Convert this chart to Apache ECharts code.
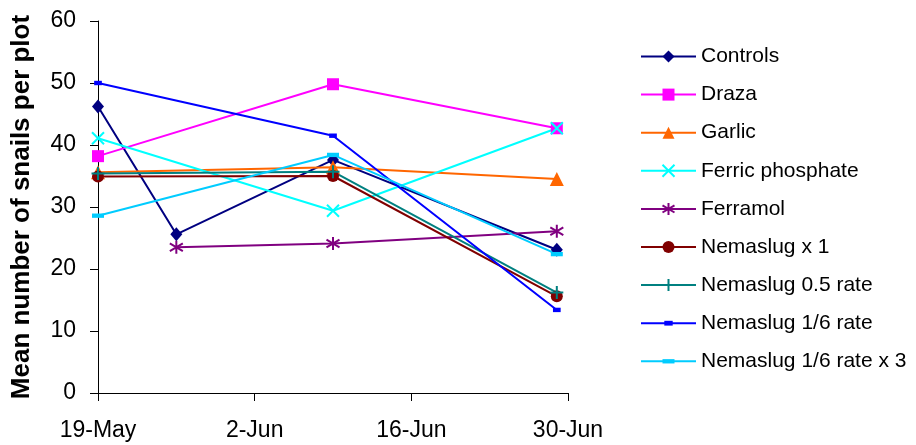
<!DOCTYPE html>
<html>
<head>
<meta charset="utf-8">
<script src="https://cdn.jsdelivr.net/npm/echarts@6/dist/echarts.min.js"></script>
<style>
html,body{margin:0;padding:0;background:#fff;}
#chart{width:916px;height:445px;}
</style>
</head>
<body>
<div id="chart"></div>
<script>
// Sampling dates
const startDate = '2008-05-19';
const dates4 = ['2008-05-19', '2008-05-26', '2008-06-09', '2008-06-29'];
const dates3 = ['2008-05-19', '2008-06-09', '2008-06-29'];
const datesFerramol = ['2008-05-26', '2008-06-09', '2008-06-29'];
const tickDates = ['2008-05-19', '2008-06-02', '2008-06-16', '2008-06-30'];
const tickLabels = ['19-May', '2-Jun', '16-Jun', '30-Jun'];

// Series values
const controls = [46.2, 25.6, 37.6, 23.1];
const draza = [38.2, 49.8, 42.7];
const garlic = [35.6, 36.4, 34.5];
const ferricPhosphate = [41.1, 29.4, 42.7];
const ferramol = [23.5, 24.1, 26.1];
const nemaslugX1 = [34.9, 35.0, 15.6];
const nemaslug05 = [35.4, 35.7, 16.2];
const nemaslug16 = [50.0, 41.5, 13.4];
const nemaslug16x3 = [28.6, 38.4, 22.4];

const DAY = 86400000;
const t0 = Date.parse(startDate);
const dayOf = d => Math.round((Date.parse(d) - t0) / DAY);
const pairs = (ds, vs) => ds.map((d, i) => [dayOf(d), vs[i]]);
const tickMap = {};
tickDates.forEach((d, i) => { tickMap[dayOf(d)] = tickLabels[i]; });

const xPath = 'path://M0,0L10,10M10,0L0,10';
const starPath = 'path://M5,0L5,10M0,2L10,8M10,2L0,8';
const plusPath = 'path://M5,0L5,10M0,5L10,5';
// dashes inside a square bounding box so they keep their shape in the legend
const dashShort = 'path://M0,0M10,10M1.5,3L8.5,3L8.5,7L1.5,7Z';
const dashLong = 'path://M0,0M10,10M0,3.2L10,3.2L10,6.8L0,6.8Z';

function mk(name, ds, vs, color, symbol, size, stroke) {
  return {
    name: name,
    type: 'line',
    data: pairs(ds, vs),
    symbol: symbol,
    symbolSize: size,
    showAllSymbol: true,
    animation: false,
    lineStyle: { color: color, width: 2 },
    itemStyle: stroke
      ? { color: 'rgba(0,0,0,0)', borderColor: color, borderWidth: 2 }
      : { color: color, borderWidth: 0 },
    emphasis: { disabled: true }
  };
}

const series = [
  mk('Controls', dates4, controls, '#000080', 'diamond', [12, 14], false),
  mk('Draza', dates3, draza, '#FF00FF', 'rect', 12, false),
  mk('Garlic', dates3, garlic, '#FF6600', 'triangle', 14, false),
  mk('Ferric phosphate', dates3, ferricPhosphate, '#00FFFF', xPath, 12, true),
  mk('Ferramol', datesFerramol, ferramol, '#800080', starPath, 13, true),
  mk('Nemaslug x 1', dates3, nemaslugX1, '#800000', 'circle', 12, false),
  mk('Nemaslug 0.5 rate', dates3, nemaslug05, '#008080', plusPath, 13, true),
  mk('Nemaslug 1/6 rate', dates3, nemaslug16, '#0000FF', dashShort, 11, false),
  mk('Nemaslug 1/6 rate x 3', dates3, nemaslug16x3, '#00CCFF', dashLong, 12, false)
];

const FONT = 'Liberation Sans, Arial, sans-serif';
const chart = echarts.init(document.getElementById('chart'), null, { renderer: 'canvas' });
chart.setOption({
  animation: false,
  backgroundColor: '#ffffff',
  grid: { left: 98, right: 348, top: 21, bottom: 52, containLabel: false },
  xAxis: {
    type: 'value',
    min: 0,
    max: 42,
    interval: 14,
    axisLine: { show: true, onZero: false, lineStyle: { color: '#000', width: 1 } },
    axisTick: { show: true, inside: false, length: 8, lineStyle: { color: '#000' } },
    splitLine: { show: false },
    axisLabel: {
      color: '#000', fontFamily: FONT, fontSize: 23, margin: 26,
      formatter: v => tickMap[v] || ''
    }
  },
  yAxis: {
    type: 'value',
    min: 0,
    max: 60,
    interval: 10,
    name: 'Mean number of snails per plot',
    nameLocation: 'middle',
    nameGap: 63,
    nameRotate: 90,
    nameTextStyle: { color: '#000', fontFamily: FONT, fontSize: 26, fontWeight: 'bold' },
    axisLine: { show: true, lineStyle: { color: '#000', width: 1 } },
    axisTick: { show: true, inside: false, length: 8, lineStyle: { color: '#000' } },
    splitLine: { show: false },
    axisLabel: { color: '#000', fontFamily: FONT, fontSize: 23, margin: 22 }
  },
  legend: {
    orient: 'vertical',
    left: 635,
    top: 41,
    itemWidth: 55,
    itemHeight: 15,
    itemGap: 17.1,
    textStyle: { color: '#000', fontFamily: FONT, fontSize: 21 },
    selectedMode: false,
    data: series.map(s => s.name)
  },
  series: series
});
</script>
</body>
</html>
